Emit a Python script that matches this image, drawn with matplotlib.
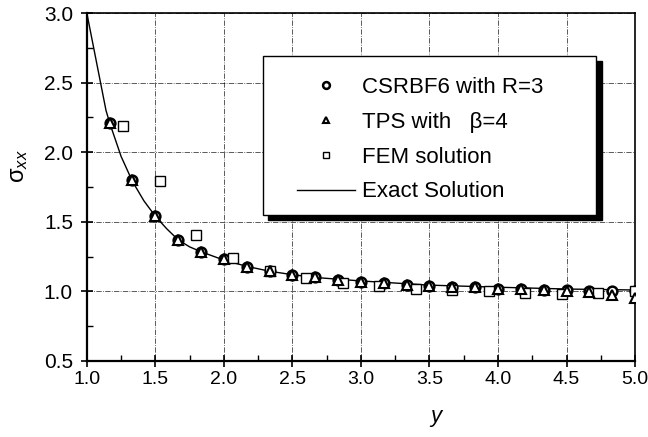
import numpy as np
from matplotlib import pyplot as plt
from matplotlib.patches import Rectangle
from matplotlib.ticker import MultipleLocator

plt.rcParams['font.family'] = ['Liberation Sans', 'DejaVu Sans']
plt.rcParams['mathtext.fontset'] = 'custom'
plt.rcParams['mathtext.rm'] = 'Liberation Sans'
plt.rcParams['mathtext.it'] = 'Liberation Sans:italic'

# nodes along the line x = 0
y_nodes = [1.167, 1.333, 1.5, 1.667, 1.833, 2.0, 2.167, 2.333, 2.5, 2.667, 2.833, 3.0,
           3.167, 3.333, 3.5, 3.667, 3.833, 4.0, 4.167, 4.333, 4.5, 4.667, 4.833, 5.0]
csrbf6 = [2.21, 1.80, 1.54, 1.37, 1.285, 1.233, 1.178, 1.145, 1.12, 1.10, 1.08, 1.07,
          1.058, 1.046, 1.04, 1.03, 1.03, 1.02, 1.015, 1.01, 1.01, 1.005, 1.0, 1.0]
tps = [2.21, 1.80, 1.54, 1.37, 1.285, 1.233, 1.178, 1.145, 1.12, 1.10, 1.08, 1.07,
       1.058, 1.046, 1.04, 1.03, 1.03, 1.02, 1.015, 1.01, 1.005, 0.995, 0.975, 0.953]

# FEM nodes
y_fem = [1.267, 1.533, 1.8, 2.067, 2.333, 2.6, 2.867, 3.133, 3.4, 3.667, 3.933,
         4.2, 4.467, 4.733, 5.0]
fem = [2.19, 1.793, 1.405, 1.238, 1.147, 1.096, 1.063, 1.04, 1.017, 1.01, 1.003,
       0.99, 0.98, 0.99, 1.0]

# exact solution
y_exact = [1.0, 1.14, 1.167, 1.25, 1.333, 1.417, 1.5, 1.583, 1.667, 1.75, 1.833,
           2.0, 2.167, 2.333, 2.5, 2.667, 3.0, 3.5, 4.0, 4.5, 5.0]
exact = [3.0, 2.30, 2.21, 1.97, 1.79, 1.65, 1.54, 1.45, 1.37, 1.32, 1.285,
         1.225, 1.18, 1.145, 1.12, 1.10, 1.075, 1.045, 1.03, 1.017, 1.01]

fig = plt.figure(figsize=(6.48, 4.37), dpi=100)
ax = fig.add_axes([0.134, 0.174, 0.846, 0.796])

ax.plot(y_nodes, csrbf6, linestyle='none', marker='o', markersize=7, mfc='white',
        mec='black', mew=1.8, label='CSRBF6 with R=3', zorder=3)
ax.plot(y_nodes, tps, linestyle='none', marker='^', markersize=7, mfc='white',
        mec='black', mew=1.5, label='TPS with   β=4', zorder=4)
ax.plot(y_fem, fem, linestyle='none', marker='s', markersize=7, mfc='white',
        mec='black', mew=1.0, label='FEM solution', zorder=3)
ax.plot(y_exact, exact, color='black', linewidth=1.0, label='Exact Solution', zorder=2)

ax.set_xlim(1.0, 5.0)
ax.set_ylim(0.5, 3.0)
ax.xaxis.set_major_locator(MultipleLocator(0.5))
ax.xaxis.set_minor_locator(MultipleLocator(0.25))
ax.yaxis.set_major_locator(MultipleLocator(0.5))
ax.yaxis.set_minor_locator(MultipleLocator(0.25))
ax.xaxis.set_major_formatter(plt.FormatStrFormatter('%.1f'))
ax.yaxis.set_major_formatter(plt.FormatStrFormatter('%.1f'))
ax.tick_params(which='major', direction='inout', length=8, width=1.2)
ax.tick_params(which='minor', direction='in', length=4, width=1.0)
ax.tick_params(axis='x', which='major', labelsize=14)
ax.tick_params(axis='y', which='major', labelsize=15, pad=6)
ax.grid(True, which='major', linestyle='-.', color='black', linewidth=0.6, alpha=0.75)

for side in ['left', 'bottom']:
    ax.spines[side].set_linewidth(1.6)
for side in ['top', 'right']:
    ax.spines[side].set_linewidth(1.2)

ax.set_xlabel('$\\it{y}$', fontsize=16)
ax.xaxis.set_label_coords(0.639, -0.135)
ax.set_ylabel('$\\mathrm{\\sigma}_{xx}$', fontsize=17)
ax.yaxis.set_label_coords(-0.104, 0.56)

# legend frame with a solid drop shadow
bx, by, bw, bh = 0.321, 0.42, 0.608, 0.456
ax.add_patch(Rectangle((bx + 0.010, by - 0.015), bw, bh, transform=ax.transAxes,
                       facecolor='black', edgecolor='black', zorder=5))
ax.add_patch(Rectangle((bx, by), bw, bh, transform=ax.transAxes,
                       facecolor='white', edgecolor='black', linewidth=1.0, zorder=5))

leg = ax.legend(loc='upper left', bbox_to_anchor=(0.384, 0.816), borderaxespad=0.0,
                borderpad=0.0, fontsize=16, frameon=False, handlelength=2.6,
                handletextpad=0.3, labelspacing=0.62, markerscale=0.7)
leg.set_zorder(6)

fig.savefig('out.png', dpi=100)
